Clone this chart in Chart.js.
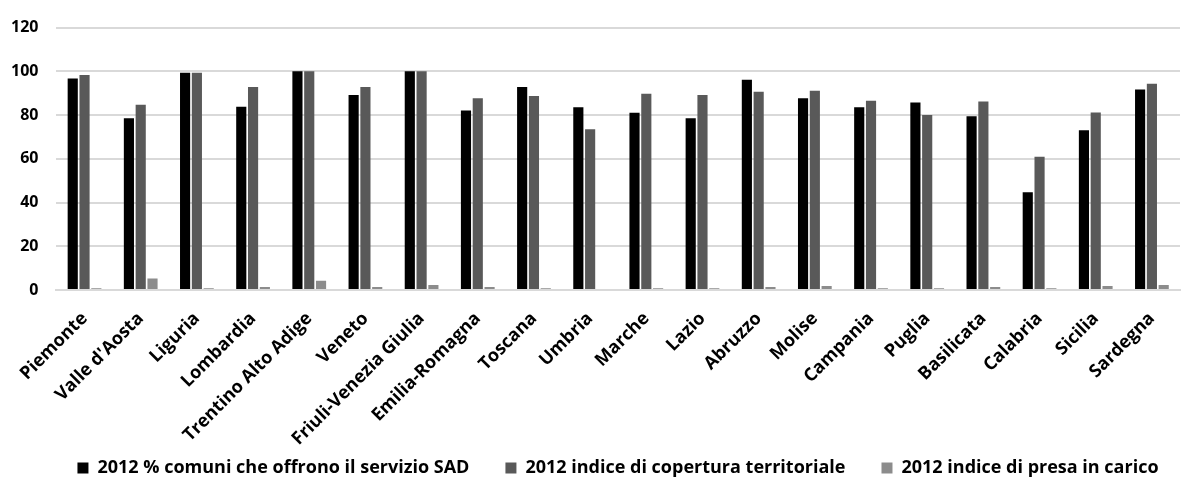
<!DOCTYPE html>
<html>
<head>
<meta charset="utf-8">
<script src="https://cdn.jsdelivr.net/npm/chart.js@4"></script>
<style>
    html, body { margin: 0; padding: 0; background: #fff; }
    #chartContainer { width: 1187px; height: 477px; }
</style>
</head>
<body>
<div id="chartContainer"><canvas id="myChart" width="1187" height="477"></canvas></div>
<script>
    //Data////////////////////////////////////////////////////////////////////
    var regions = ['Piemonte', "Valle d'Aosta", 'Liguria', 'Lombardia', 'Trentino Alto Adige', 'Veneto',
        'Friuli-Venezia Giulia', 'Emilia-Romagna', 'Toscana', 'Umbria', 'Marche', 'Lazio', 'Abruzzo',
        'Molise', 'Campania', 'Puglia', 'Basilicata', 'Calabria', 'Sicilia', 'Sardegna'];
    var comuniSAD = [96.7, 78.5, 99.4, 83.8, 100, 89.2, 100, 82.1, 92.8, 83.6, 81.1, 78.5, 96.2,
        87.7, 83.6, 85.7, 79.5, 44.7, 73.1, 91.7];
    var coperturaTerritoriale = [98.3, 84.7, 99.4, 92.8, 100, 92.8, 100, 87.7, 88.7, 73.5, 89.8, 89.2, 90.7,
        91.1, 86.6, 80.0, 86.2, 60.9, 81.2, 94.3];
    var presaInCarico = [0.8, 5.3, 0.8, 1.4, 4.2, 1.4, 2.3, 1.4, 0.8, 0, 0.8, 0.8, 1.4,
        1.8, 0.8, 0.8, 1.4, 0.8, 1.8, 2.3];
    var seriesLabels = ['2012 % comuni che offrono il servizio SAD', '2012 indice di copertura territoriale',
        '2012 indice di presa in carico'];
    var yMax = 120;
    var yStep = 20;

    //Chart////////////////////////////////////////////////////////////////////
    var fontFamily = "'Open Sans', 'Liberation Sans', sans-serif";
    var ctx = document.getElementById('myChart').getContext('2d');

    function barSet(label, values, color) {
        return {
            label: label,
            data: values,
            backgroundColor: color,
            borderWidth: 0,
            categoryPercentage: 0.63,
            barPercentage: 0.86
        };
    }

    // the legend sits low, close under the long rotated labels
    var legendShift = {
        id: 'legendShift',
        afterLayout: function (chart) {
            var legend = chart.legend;
            legend.left = 36;
            legend.right = 1200;
            legend.top = 423;
            legend.bottom = 500;
            legend.height = 77;
        }
    };

    var chart = new Chart(ctx, {
        type: 'bar',
        data: {
            labels: regions,
            datasets: [
                barSet(seriesLabels[0], comuniSAD, '#000000'),
                barSet(seriesLabels[1], coperturaTerritoriale, '#595959'),
                barSet(seriesLabels[2], presaInCarico, '#8c8c8c')
            ]
        },
        plugins: [legendShift],
        options: {
            responsive: false,
            animation: false,
            maintainAspectRatio: false,
            layout: { padding: { left: -7, right: 7, top: 13, bottom: 0 } },
            plugins: {
                tooltip: { enabled: false },
                legend: {
                    position: 'bottom',
                    maxHeight: 27,
                    labels: {
                        boxWidth: 11,
                        boxHeight: 11,
                        padding: 36,
                        color: '#000000',
                        font: { family: fontFamily, size: 18, weight: 'bold' }
                    }
                }
            },
            scales: {
                x: {
                    grid: { display: false },
                    border: { color: '#d9d9d9', width: 2 },
                    afterFit: function (scale) {
                        scale.height = 160;
                        scale.paddingLeft = 0;
                        scale.paddingRight = 0;
                    },
                    ticks: {
                        color: '#000000',
                        maxRotation: 45,
                        minRotation: 45,
                        autoSkip: false,
                        padding: 10,
                        font: { family: fontFamily, size: 18, weight: 'bold' }
                    }
                },
                y: {
                    min: 0,
                    max: yMax,
                    grid: { color: '#d9d9d9', lineWidth: 2, drawTicks: false },
                    border: { display: false },
                    ticks: {
                        stepSize: yStep,
                        color: '#000000',
                        padding: 18,
                        font: { family: fontFamily, size: 16, weight: 'bold' }
                    }
                }
            }
        }
    });
</script>
</body>
</html>
